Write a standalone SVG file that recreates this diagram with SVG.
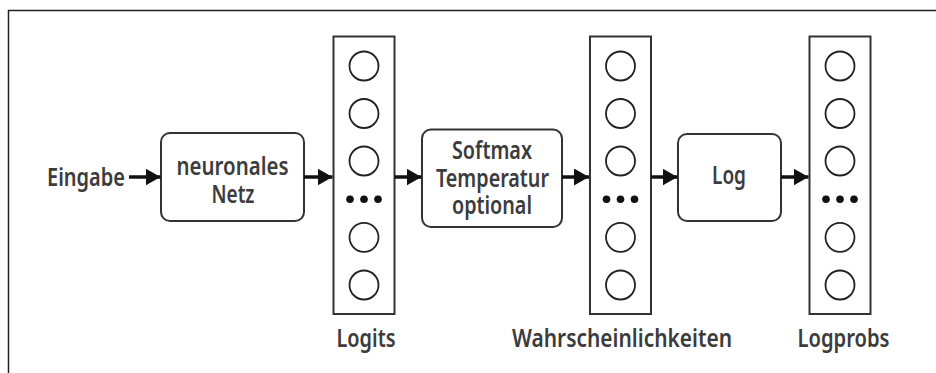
<svg xmlns="http://www.w3.org/2000/svg" width="936" height="373" viewBox="0 0 936 373">
  <defs>
    <marker id="arrowhead" markerUnits="userSpaceOnUse" markerWidth="16" markerHeight="18" refX="15" refY="8.5" orient="auto">
      <path d="M0,0 L15,8.5 L0,17 Z" fill="#111"/>
    </marker>
    <style>
      .frame { fill: none; stroke: #222; stroke-width: 1.5; }
      .box { fill: #fff; stroke: #333; stroke-width: 2; }
      .col { fill: #fff; stroke: #333; stroke-width: 2; }
      .unit { fill: #fff; stroke: #222; stroke-width: 1.8; }
      .dot { fill: #111; }
      .lbl { font-family: "Noto Sans", "Open Sans", "Liberation Sans", sans-serif; font-stretch: condensed; font-weight: 600; font-size: 26px; fill: #3c3c3c; text-anchor: middle; }
      .edge { stroke: #111; stroke-width: 3.5; fill: none; marker-end: url(#arrowhead); }
    </style>
  </defs>

  <!-- outer frame (continues past the right and bottom edges) -->
  <rect class="frame" x="8.5" y="10.5" width="940" height="380"/>

  <!-- input label -->
  <g id="eingabe">
    <text class="lbl" x="86" y="186" textLength="78" lengthAdjust="spacingAndGlyphs">Eingabe</text>
  </g>

  <!-- network block -->
  <g id="netz">
    <rect class="box" x="161" y="133" width="143" height="88" rx="9"/>
    <text class="lbl" x="232.5" y="175" textLength="112" lengthAdjust="spacingAndGlyphs">neuronales</text>
    <text class="lbl" x="233" y="202.5" textLength="43" lengthAdjust="spacingAndGlyphs">Netz</text>
  </g>

  <!-- logits vector -->
  <g id="logits">
    <rect class="col" x="333.5" y="36.5" width="61" height="277.5"/>
    <circle class="unit" cx="364" cy="66" r="14.5"/>
    <circle class="unit" cx="364" cy="113.5" r="14.5"/>
    <circle class="unit" cx="364" cy="161" r="14.5"/>
    <circle class="dot" cx="350" cy="199.3" r="3.8"/>
    <circle class="dot" cx="364" cy="199.3" r="3.8"/>
    <circle class="dot" cx="378" cy="199.3" r="3.8"/>
    <circle class="unit" cx="364" cy="237.3" r="14.5"/>
    <circle class="unit" cx="364" cy="285" r="14.5"/>
    <text class="lbl" x="366" y="347" textLength="59" lengthAdjust="spacingAndGlyphs">Logits</text>
  </g>

  <!-- softmax block -->
  <g id="softmax">
    <rect class="box" x="422" y="129.5" width="140" height="97.5" rx="9"/>
    <text class="lbl" x="492" y="159" textLength="80" lengthAdjust="spacingAndGlyphs">Softmax</text>
    <text class="lbl" x="492.5" y="186.5" textLength="113" lengthAdjust="spacingAndGlyphs">Temperatur</text>
    <text class="lbl" x="492" y="214" textLength="80" lengthAdjust="spacingAndGlyphs">optional</text>
  </g>

  <!-- probability vector -->
  <g id="wahrscheinlichkeiten">
    <rect class="col" x="590" y="36.5" width="61" height="277.5"/>
    <circle class="unit" cx="620.5" cy="66" r="14.5"/>
    <circle class="unit" cx="620.5" cy="113.5" r="14.5"/>
    <circle class="unit" cx="620.5" cy="161" r="14.5"/>
    <circle class="dot" cx="606.5" cy="199.3" r="3.8"/>
    <circle class="dot" cx="620.5" cy="199.3" r="3.8"/>
    <circle class="dot" cx="634.5" cy="199.3" r="3.8"/>
    <circle class="unit" cx="620.5" cy="237.3" r="14.5"/>
    <circle class="unit" cx="620.5" cy="285" r="14.5"/>
    <text class="lbl" x="622" y="347" textLength="220" lengthAdjust="spacingAndGlyphs">Wahrscheinlichkeiten</text>
  </g>

  <!-- log block -->
  <g id="log">
    <rect class="box" x="678" y="134" width="103" height="87" rx="9"/>
    <text class="lbl" x="729" y="183.5" textLength="34" lengthAdjust="spacingAndGlyphs">Log</text>
  </g>

  <!-- log-probability vector -->
  <g id="logprobs">
    <rect class="col" x="809.5" y="36.5" width="61" height="277.5"/>
    <circle class="unit" cx="840" cy="66" r="14.5"/>
    <circle class="unit" cx="840" cy="113.5" r="14.5"/>
    <circle class="unit" cx="840" cy="161" r="14.5"/>
    <circle class="dot" cx="826" cy="199.3" r="3.8"/>
    <circle class="dot" cx="840" cy="199.3" r="3.8"/>
    <circle class="dot" cx="854" cy="199.3" r="3.8"/>
    <circle class="unit" cx="840" cy="237.3" r="14.5"/>
    <circle class="unit" cx="840" cy="285" r="14.5"/>
    <text class="lbl" x="843.5" y="347" textLength="92" lengthAdjust="spacingAndGlyphs">Logprobs</text>
  </g>

  <!-- connectors -->
  <g id="connectors">
    <line class="edge" x1="129" y1="177" x2="160.5" y2="177"/>
    <line class="edge" x1="304" y1="177" x2="332.5" y2="177"/>
    <line class="edge" x1="394.5" y1="177" x2="421.5" y2="177"/>
    <line class="edge" x1="562" y1="177" x2="589" y2="177"/>
    <line class="edge" x1="651" y1="177" x2="677.5" y2="177"/>
    <line class="edge" x1="781" y1="177" x2="808.5" y2="177"/>
  </g>
</svg>
